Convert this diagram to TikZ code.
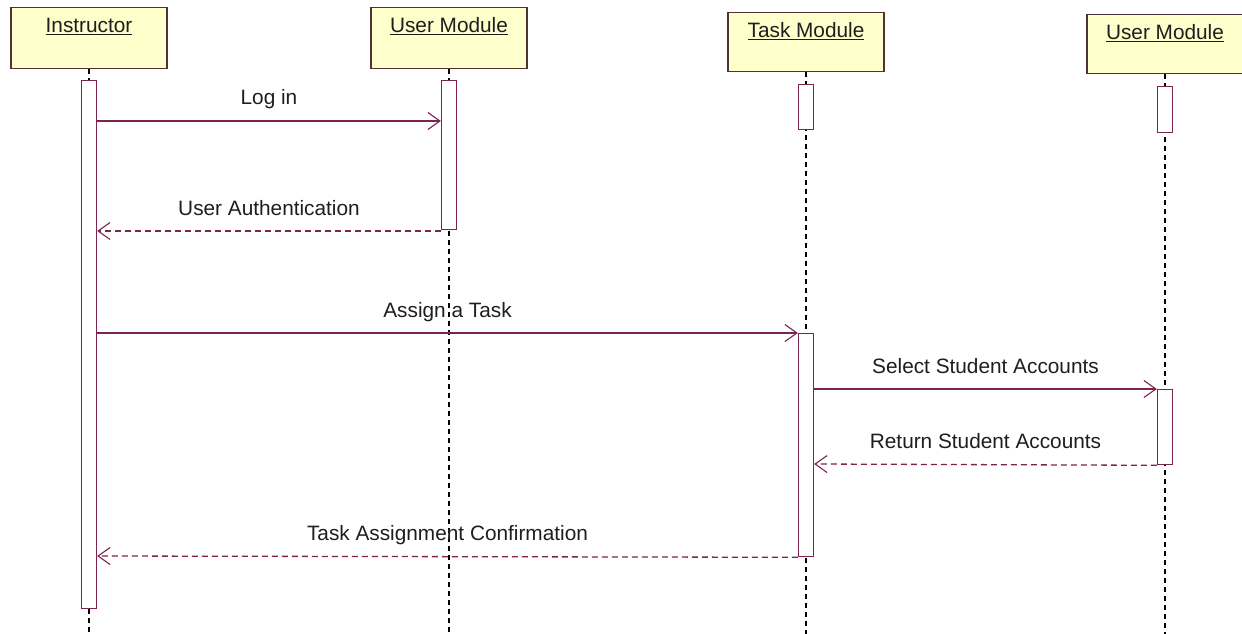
\documentclass[tikz,border=0pt]{standalone}
\usepackage{fontspec}
\setmainfont{Liberation Sans}
\usetikzlibrary{arrows.meta}
\definecolor{boxfill}{RGB}{255,255,204}
\definecolor{boxline}{RGB}{80,50,50}
\definecolor{msgcol}{RGB}{125,35,80}
\definecolor{txtcol}{RGB}{30,30,30}
\tikzset{
  objbox/.style={draw=boxline, fill=boxfill, line width=1.3pt, rectangle, inner xsep=0pt, inner ysep=0pt,
    minimum width=156pt, text height=25pt, text depth=36pt, font=\fontsize{20.8}{24}\selectfont, text=txtcol},
  actbar/.style={draw=msgcol, fill=white, line width=1.3pt, rectangle, inner sep=0pt, minimum width=15pt},
  lifeln/.style={draw=black, line width=1.2pt, dash pattern=on 5pt off 4pt},
  call/.style={draw=msgcol, line width=1.3pt, -{Straight Barb[length=12pt,width=17pt,line width=1.1pt]}},
  reply/.style={draw=msgcol, line width=1.3pt, dash pattern=on 6pt off 4pt, -{Straight Barb[length=12pt,width=17pt,line width=1.1pt]}},
  msglbl/.style={anchor=base, text=txtcol, font=\fontsize{20.8}{24}\selectfont, inner sep=0pt}
}
\begin{document}
\begin{tikzpicture}[x=1pt,y=-1pt]
\useasboundingbox (0,0) rectangle (1242,634);
\clip (0,0) rectangle (1242,634);
% object boxes
\node[objbox, anchor=north] (inst) at (89,7) {\underline{Instructor}};
\node[objbox, anchor=north] (um1) at (449,7) {\underline{User Module}};
\node[objbox, anchor=north, text depth=34pt] (tm) at (806,12) {\underline{Task Module}};
\node[objbox, anchor=north, text depth=34pt] (um2) at (1165,14) {\underline{User Module}};
% lifelines
\coordinate (instend) at (89,634);
\coordinate (um1end) at (449,634);
\coordinate (tmend) at (806,634);
\coordinate (um2end) at (1165,634);
\draw[lifeln] (inst.south) -- (instend);
\draw[lifeln] (um1.south) -- (um1end);
\draw[lifeln] (tm.south) -- (tmend);
\draw[lifeln] (um2.south) -- (um2end);
% activation bars
\node[actbar, anchor=north, minimum height=528pt] (ib) at (89,80) {};
\node[actbar, anchor=north, minimum height=149pt] (ub1) at (449,80) {};
\node[actbar, anchor=north, minimum height=45pt] (tb1) at (806,84) {};
\node[actbar, anchor=north, minimum height=223pt] (tb2) at (806,333) {};
\node[actbar, anchor=north, minimum height=46pt] (ub2a) at (1165,86) {};
\node[actbar, anchor=north, minimum height=75pt] (ub2b) at (1165,389) {};
% messages
\draw[call] (ib.east |- 0,121) -- node[msglbl, yshift=17pt] {Log in} (ub1.west |- 0,121);
\draw[reply] (ub1.west |- 0,231) -- node[msglbl, yshift=16pt] {User Authentication} (ib.east |- 0,231);
\draw[call] (ib.east |- 0,333) -- node[msglbl, yshift=16pt] {Assign a Task} (tb2.north west);
\draw[call] (tb2.east |- 0,389) -- node[msglbl, yshift=16pt] {Select Student Accounts} (ub2b.north west);
\draw[reply] (ub2b.south west) -- node[msglbl, yshift=16pt] {Return Student Accounts} (tb2.east |- 0,464);
\draw[reply] (tb2.south west) -- node[msglbl, yshift=16pt] {Task Assignment Confirmation} (ib.east |- 0,556);
\end{tikzpicture}
\end{document}
